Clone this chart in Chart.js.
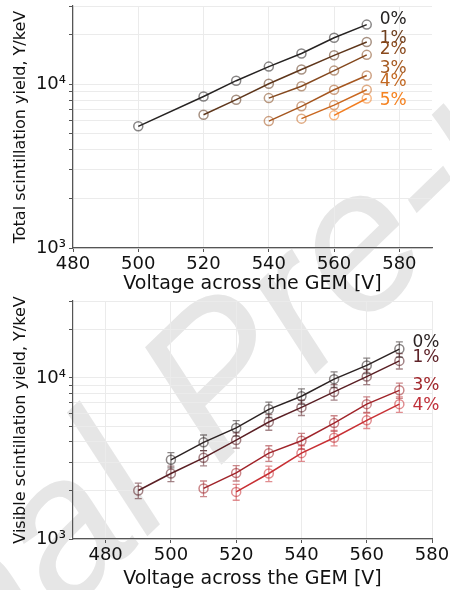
<!DOCTYPE html>
<html>
<head>
<meta charset="utf-8">
<script src="https://cdn.jsdelivr.net/npm/chart.js@4.4.1/dist/chart.umd.min.js"></script>
<style>
  html, body { margin: 0; padding: 0; background: #fff; }
  #wrap { position: relative; width: 450px; height: 590px; overflow: hidden; }
  .panel { position: absolute; left: 0; width: 450px; height: 295px; }
  #watermark {
    position: absolute; left: 213px; top: 377px;
    transform: translate(-50%, -50%) rotate(-44deg);
    font: italic 200px "Liberation Sans"; line-height: 1; white-space: nowrap;
    color: #e6e6e6;
  }
</style>
</head>
<body>
<div id="wrap">
  <div id="watermark">Journal Pre-proof</div>
  <div class="panel" style="top:0"><canvas id="totalChart" width="450" height="295"></canvas></div>
  <div class="panel" style="top:295px"><canvas id="visibleChart" width="450" height="295"></canvas></div>
</div>
<script>
// Axis ticks
const xTicks = [480, 500, 520, 540, 560, 580];
const yTicks = [1000, 2000, 3000, 4000, 5000, 6000, 7000, 8000, 9000, 10000, 20000, 30000];
const yTickVals = [1000, 10000];
const yTickText = ['10³', '10⁴'];

// Top panel: total scintillation yield (Y/keV)
const totalNames = ['0%', '1%', '2%', '3%', '4%', '5%'];
const total0V = [500, 520, 530, 540, 550, 560, 570];
const total0Y = [5530, 8410, 10500, 12800, 15400, 19200, 23100];
const total1V = [520, 530, 540, 550, 560, 570];
const total1Y = [6510, 8040, 10060, 12300, 15000, 18100];
const total2V = [540, 550, 560, 570];
const total2Y = [8220, 9720, 12100, 15100];
const total3V = [540, 550, 560, 570];
const total3Y = [5950, 7320, 9250, 11300];
const total4V = [550, 560, 570];
const total4Y = [6160, 7450, 9250];
const total5V = [560, 570];
const total5Y = [6450, 8180];
const totalLabelY = [25000, 19200, 16400, 12700, 10500, 8040];

// Bottom panel: visible scintillation yield (Y/keV) with errors
const visNames = ['0%', '1%', '3%', '4%'];
const vis0V = [500, 510, 520, 530, 540, 550, 560, 570];
const vis0Y = [3100, 3980, 4890, 6380, 7690, 9820, 11950, 15090];
const vis0Err = [340, 440, 540, 700, 850, 1080, 1310, 1660];
const vis1V = [490, 500, 510, 520, 530, 540, 550, 560, 570];
const vis1Y = [2000, 2550, 3190, 4110, 5320, 6560, 8180, 10190, 12750];
const vis1Err = [220, 280, 350, 450, 590, 720, 900, 1120, 1400];
const vis3V = [510, 520, 530, 540, 550, 560, 570];
const vis3Y = [2060, 2570, 3410, 4070, 5240, 6870, 8370];
const vis3Err = [230, 280, 380, 450, 580, 760, 920];
const vis4V = [520, 530, 540, 550, 560, 570];
const vis4Y = [1960, 2550, 3410, 4250, 5450, 6870];
const vis4Err = [220, 280, 380, 470, 600, 760];
const visLabelY = [16700, 13600, 9100, 6870];

const labelX = 574;
const FONT = '"DejaVu Sans", sans-serif';

const totalLine = ['#262322', '#5e361b', '#84481e', '#a5561f', '#c9671f', '#f27d20'];
const totalText = ['#262322', '#6e3f1e', '#8a4a1e', '#a65a21', '#c26822', '#f58220'];
const visLine = ['#2b2222', '#5a1f24', '#a0242a', '#c83034'];
const visText = ['#2b2323', '#5e2228', '#a0262b', '#c0303a'];

function alpha(hex, a) {
    const n = parseInt(hex.slice(1), 16);
    return `rgba(${n >> 16}, ${(n >> 8) & 255}, ${n & 255}, ${a})`;
}

function series(xs, ys, color, errs) {
    return {
        data: xs.map((v, i) => ({ x: v, y: ys[i] })),
        errors: errs,
        showLine: true,
        borderColor: color,
        borderWidth: 1.5,
        pointBorderColor: alpha(color, 0.55),
        pointBackgroundColor: 'rgba(0,0,0,0)',
        pointBorderWidth: 1.5,
        pointRadius: 4.5,
        pointHoverRadius: 4.5
    };
}

// error bars drawn through the scales
const errorBarPlugin = {
    id: 'errorBars',
    afterDatasetsDraw(chart) {
        const { ctx, scales: { x, y } } = chart;
        chart.data.datasets.forEach(ds => {
            if (!ds.errors) return;
            ctx.save();
            ctx.strokeStyle = ds.pointBorderColor;
            ctx.lineWidth = 1.3;
            ds.data.forEach((p, i) => {
                const px = x.getPixelForValue(p.x);
                const top = y.getPixelForValue(p.y + ds.errors[i]);
                const bot = y.getPixelForValue(p.y - ds.errors[i]);
                ctx.beginPath();
                ctx.moveTo(px, top); ctx.lineTo(px, bot);
                ctx.moveTo(px - 3.5, top); ctx.lineTo(px + 3.5, top);
                ctx.moveTo(px - 3.5, bot); ctx.lineTo(px + 3.5, bot);
                ctx.stroke();
            });
            ctx.restore();
        });
    }
};

// percentage labels at the right
const seriesLabelPlugin = {
    id: 'seriesLabels',
    afterDraw(chart, args, opts) {
        const { ctx, scales: { x, y } } = chart;
        ctx.save();
        ctx.font = '17px ' + FONT;
        ctx.textAlign = 'left';
        ctx.textBaseline = 'middle';
        opts.names.forEach((t, i) => {
            ctx.fillStyle = opts.colors[i];
            ctx.fillText(t, x.getPixelForValue(labelX), y.getPixelForValue(opts.ys[i]) + 1);
        });
        ctx.restore();
    }
};

function makeChart(id, datasets, cfg) {
    return new Chart(document.getElementById(id), {
        type: 'scatter',
        data: { datasets },
        plugins: [errorBarPlugin, seriesLabelPlugin],
        options: {
            responsive: false,
            animation: false,
            events: [],
            layout: { padding: { top: cfg.padTop, right: 18, left: 0, bottom: 0 } },
            plugins: {
                legend: { display: false },
                tooltip: { enabled: false },
                seriesLabels: { names: cfg.names, colors: cfg.labelColors, ys: cfg.labelYs }
            },
            scales: {
                x: {
                    type: 'linear',
                    min: cfg.xMin,
                    max: cfg.xMax,
                    afterBuildTicks: s => { s.ticks = xTicks.map(v => ({ value: v })); },
                    afterFit: s => { s.height = cfg.xHeight; s.paddingLeft = 0; s.paddingRight = 0; },
                    ticks: { font: { family: FONT, size: 18 }, color: '#111', padding: 2, maxRotation: 0, autoSkip: false },
                    grid: { color: '#ebebeb', tickColor: '#555', tickLength: 4 },
                    border: { color: '#555', width: 1.2 },
                    title: {
                        display: true, text: 'Voltage across the GEM [V]',
                        font: { family: FONT, size: 19 }, color: '#111',
                        padding: { top: 0, bottom: 0 }
                    }
                },
                y: {
                    type: 'logarithmic',
                    min: 1000,
                    max: 30000,
                    afterBuildTicks: s => { s.ticks = yTicks.map(v => ({ value: v })); },
                    afterFit: s => { s.width = 73; s.paddingTop = 0; s.paddingBottom = 0; },
                    ticks: {
                        font: { family: FONT, size: 18 }, color: '#111', padding: 3, autoSkip: false,
                        callback: v => {
                            const k = yTickVals.indexOf(v);
                            return k >= 0 ? yTickText[k] : '';
                        }
                    },
                    grid: { color: '#ebebeb', tickColor: '#555', tickLength: 4 },
                    border: { color: '#555', width: 1.2 },
                    title: {
                        display: true, text: cfg.yTitle,
                        font: { family: FONT, size: 16 }, color: '#111',
                        padding: { top: 11, bottom: 0 }
                    }
                }
            }
        }
    });
}

makeChart('totalChart', [
    series(total0V, total0Y, totalLine[0]),
    series(total1V, total1Y, totalLine[1]),
    series(total2V, total2Y, totalLine[2]),
    series(total3V, total3Y, totalLine[3]),
    series(total4V, total4Y, totalLine[4]),
    series(total5V, total5Y, totalLine[5])
], {
    padTop: 5, xHeight: 47, xMin: 480, xMax: 590,
    yTitle: 'Total scintillation yield, Y/keV',
    names: totalNames, labelColors: totalText, labelYs: totalLabelY
});

makeChart('visibleChart', [
    series(vis0V, vis0Y, visLine[0], vis0Err),
    series(vis1V, vis1Y, visLine[1], vis1Err),
    series(vis3V, vis3Y, visLine[2], vis3Err),
    series(vis4V, vis4Y, visLine[3], vis4Err)
], {
    padTop: 1, xHeight: 51, xMin: 470, xMax: 580,
    yTitle: 'Visible scintillation yield, Y/keV',
    names: visNames, labelColors: visText, labelYs: visLabelY
});
</script>
</body>
</html>
